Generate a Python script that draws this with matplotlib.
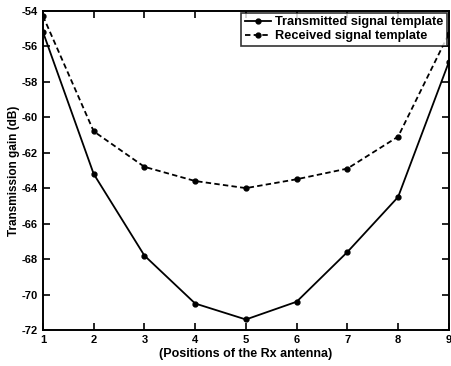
import numpy as np
import matplotlib
matplotlib.use("Agg")
import matplotlib.pyplot as plt

plt.rcParams['font.family'] = ['Liberation Sans', 'DejaVu Sans']
plt.rcParams['font.weight'] = 'bold'
plt.rcParams['axes.unicode_minus'] = False

positions = [1, 2, 3, 4, 5, 6, 7, 8, 9]
transmitted = [-55.2, -63.2, -67.8, -70.5, -71.4, -70.4, -67.6, -64.5, -56.9]
received = [-54.3, -60.8, -62.8, -63.6, -64.0, -63.5, -62.9, -61.1, -55.3]

fig = plt.figure(figsize=(4.52, 3.66), dpi=100)
ax = fig.add_axes([0.095, 0.098, 0.898, 0.873])

ax.plot(positions, transmitted, '-', color='black', lw=1.3, marker='o', ms=3.5,
        label='Transmitted signal template')
ax.plot(positions, received, '--', dashes=(3, 1.8), color='black', lw=1.3, marker='o', ms=3.5,
        label='Received signal template')

ax.set_xlim(1, 9)
ax.set_ylim(-72, -54)
ax.set_xticks(range(1, 10))
ax.set_yticks(range(-72, -53, 2))
ax.tick_params(direction='in', length=5, width=1.2, labelsize=8, top=True, right=True,
               labeltop=False, labelright=False)
for lab in ax.get_xticklabels() + ax.get_yticklabels():
    lab.set_fontweight('bold')
for s in ax.spines.values():
    s.set_linewidth(1.4)

ax.set_xlabel('(Positions of the Rx antenna)', fontsize=9, fontweight='bold', labelpad=2)
ax.set_ylabel('Transmission gain (dB)', fontsize=8.5, fontweight='bold', labelpad=1)

leg = ax.legend(loc='upper right', frameon=True, fancybox=False,
                borderpad=0.3, labelspacing=0.15, handlelength=2.0, handletextpad=0.3,
                borderaxespad=0.15, prop={'weight': 'bold', 'size': 9.2})
leg.get_frame().set_edgecolor('black')
leg.get_frame().set_linewidth(1.2)

fig.savefig('out.png', dpi=100)
